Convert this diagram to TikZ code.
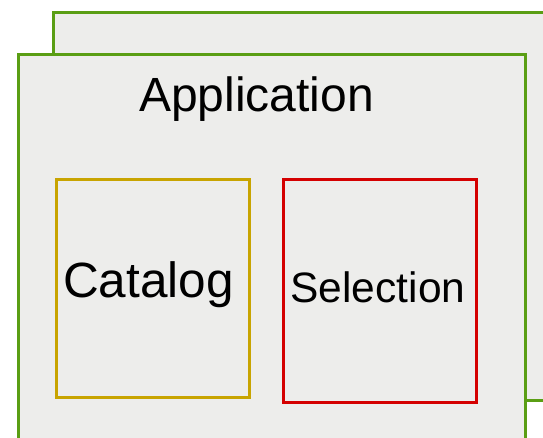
\documentclass[tikz,border=0pt]{standalone}
\usepackage{fontspec}
\setmainfont{Liberation Sans}
\usetikzlibrary{positioning}

\definecolor{appgreen}{HTML}{5A9E14}
\definecolor{catyellow}{HTML}{C8A400}
\definecolor{selred}{HTML}{D40000}
\definecolor{boxgray}{HTML}{EDEDEB}

\tikzset{
  frame/.style={draw=appgreen, fill=boxgray, line width=3pt, anchor=north west, inner sep=0pt},
  module/.style={line width=3pt, anchor=north west, inner sep=0pt},
  label/.style={inner sep=0pt, anchor=base}
}

\begin{document}
\begin{tikzpicture}[x=1pt, y=-1pt]
  \useasboundingbox (0,0) rectangle (543,438);
  \clip (0,0) rectangle (543,438);

  \node (back) [frame, minimum width=540pt, minimum height=387pt] at (51.5,11.5) {};
  \node (front) [frame, minimum width=507pt, minimum height=440pt] at (16.5,53.5) {};

  \node (title) [label, font=\fontsize{48}{52}\selectfont] at (256.5,112) {Application};

  \node (catalog) [module, draw=catyellow, minimum width=193pt, minimum height=217pt]
    at (54.8,178.5) {};
  \node (selection) [module, draw=selred, minimum width=193pt, minimum height=222pt]
    at (282.2,178.5) {};

  \node (catname) [label, font=\fontsize{49.5}{54}\selectfont] at (148.5,297) {Catalog};
  \node (selname) [label, font=\fontsize{42.5}{46}\selectfont] at (378,302) {Selection};

\end{tikzpicture}
\end{document}
